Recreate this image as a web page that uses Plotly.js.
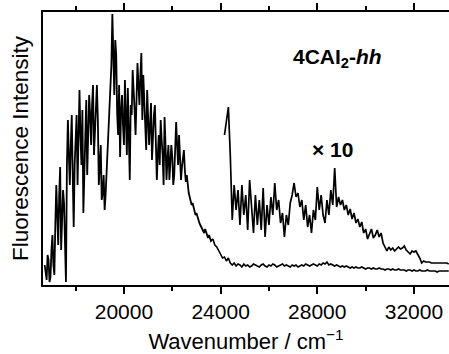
<!DOCTYPE html>
<html>
<head>
<meta charset="utf-8">
<script src="https://cdn.plot.ly/plotly-3.0.1.min.js"></script>
<style>html,body{margin:0;padding:0;background:#fff;}#chart{width:449px;height:354px;}</style>
</head>
<body>
<div id="chart"></div>
<script>
// Wavenumber grids (cm^-1): start and step of each sampled segment
const noisyStart = 16720;   // structured visible band, fine sampling
const noisyStep = 40;
const tailStart = 23680;    // smooth UV tail, coarser sampling
const tailStep = 80;
const scaledStart = 24160;  // x10 magnified segment
const scaledStep = 80;

// Fluorescence intensity (arbitrary units), 16720 - 23680 cm^-1
const noisyIntensity = [
  20,12,5,30,25,3,8,35,50,20,10,60,100,70,40,90,118,35,60,95,
  82,30,3,120,165,130,100,140,170,110,58,120,150,170,100,160,195,150,120,175,
  72,110,160,185,110,150,190,170,140,180,200,130,150,185,200,165,100,120,140,85,
  92,110,75,90,110,130,150,175,195,220,271,210,190,245,230,170,150,200,128,175,
  190,160,140,205,175,130,197,150,105,180,170,215,200,175,150,190,222,200,180,210,
  232,165,210,185,160,135,195,170,140,160,182,125,150,170,180,135,105,130,150,120,
  165,145,130,100,168,140,105,125,140,105,118,140,128,100,110,135,163,140,120,150,
  133,105,118,128,135,115,103,110,100,92,88,84,80,82,78,72,70,72,68,64,
  62,60,58,57,55,52,56,52,48,47,50,46,44,45,46
];

// Fluorescence intensity (arbitrary units), 23680 - 33440 cm^-1
const tailIntensity = [
  46,40,38,34,30,27,28,24,27,22,20,22,19,21,
  20,18,21,19,20,18,19,21,20,19,18,20,21,19,18,20,19,21,20,18,19,20,21,19,20,19,18,20,19,20,
  18,19,20,19,21,20,19,20,21,20,19,21,20,22,21,23,20,21,20,19,20,19,18,19,18,19,18,17,18,17,
  18,17,17,18,17,16,17,17,16,17,16,16,17,16,16,15,16,16,15,16,15,15,16,15,15,15,14,15,15,14,
  15,14,14,15,14,14,14,15,14,14,14,14,13,14,14,14,14,14,14
];

// Same spectrum above 24000 cm^-1, magnified x10 (as plotted)
const scaledIntensity = [
  150,165,178,130,65,100,75,95,60,100,
  70,90,55,105,80,52,90,60,85,55,
  97,48,80,60,88,70,102,75,85,62,
  72,48,70,60,82,90,102,88,92,78,
  85,65,80,58,70,52,75,65,98,75,
  90,70,62,85,70,95,80,117,78,88,
  80,85,75,80,70,76,66,72,62,66,
  58,63,52,56,46,52,56,47,50,55,
  48,52,42,38,34,38,35,37,34,36,
  38,36,37,39,35,33,31,34,33,34,
  31,27,22,24,23,23,23,22,22,22,
  22,22,22,22,22,22,21
];

const xTickVals = [20000, 24000, 28000, 32000];
const xTickText = ['20000', '24000', '28000', '32000'];
const xMinorVals = [18000, 22000, 26000, 30000];
const labelCompound = '<b>4CAI<sub>2</sub>-<i>hh</i></b>';
const labelScale = '<b>\u00D7 10</b>';

const FONT = 'Liberation Sans, Arial, Helvetica, sans-serif';

function lineTrace(x0, dx, y, w) {
  return {
    type: 'scatter', mode: 'lines', x0: x0, dx: dx, y: y,
    line: {color: '#000', width: w},
    hoverinfo: 'skip', showlegend: false
  };
}

const traces = [
  lineTrace(noisyStart, noisyStep, noisyIntensity, 1.8),
  lineTrace(tailStart, tailStep, tailIntensity, 1.6),
  lineTrace(scaledStart, scaledStep, scaledIntensity, 1.7)
];

const layout = {
  width: 449, height: 354,
  margin: {l: 43, r: 0, t: 12, b: 69},
  paper_bgcolor: '#fff', plot_bgcolor: '#fff',
  font: {family: FONT, color: '#000', size: 21},
  showlegend: false,
  xaxis: {
    range: [16650, 33450],
    showline: true, linecolor: '#000', linewidth: 2,
    mirror: 'ticks',
    ticks: 'outside', ticklen: 7, tickwidth: 2, tickcolor: '#000',
    tickvals: xTickVals, ticktext: xTickText,
    minor: {tickvals: xMinorVals, ticks: 'outside', ticklen: 4, tickwidth: 2, tickcolor: '#000'},
    showgrid: false, zeroline: false,
    tickfont: {size: 21, family: FONT},
    title: {text: 'Wavenumber / cm<sup>\u22121</sup>', font: {size: 22, family: FONT}, standoff: 16}
  },
  yaxis: {
    range: [0, 273],
    showline: true, linecolor: '#000', linewidth: 2,
    mirror: false,
    ticks: '', showticklabels: false,
    showgrid: false, zeroline: false,
    title: {text: 'Fluorescence Intensity', font: {size: 22.5, family: FONT}, standoff: 6}
  },
  annotations: [
    {text: labelCompound, xref: 'paper', yref: 'paper', x: 0.725, y: 0.83,
     showarrow: false, xanchor: 'center', yanchor: 'middle', font: {size: 21, family: FONT}},
    {text: labelScale, xref: 'paper', yref: 'paper', x: 0.714, y: 0.497,
     showarrow: false, xanchor: 'center', yanchor: 'middle', font: {size: 21, family: FONT}}
  ]
};

Plotly.newPlot('chart', traces, layout, {staticPlot: true, displayModeBar: false});
</script>
</body>
</html>
